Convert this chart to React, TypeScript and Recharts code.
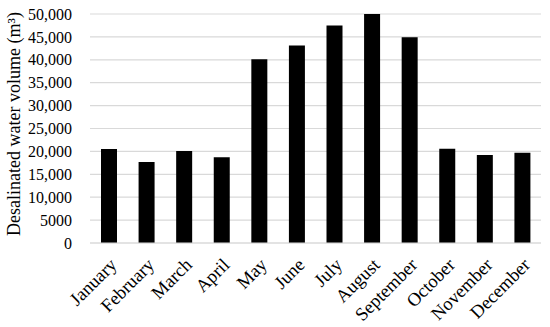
import { BarChart, Bar, XAxis, YAxis, CartesianGrid } from 'recharts';

// Monthly desalinated water volume (m³)
const months = [
  'January', 'February', 'March', 'April', 'May', 'June',
  'July', 'August', 'September', 'October', 'November', 'December'
];
const volumes = [
  20500, 17700, 20100, 18700, 40100, 43100,
  47500, 50000, 44900, 20600, 19200, 19700
];
const yTicks = [0, 5000, 10000, 15000, 20000, 25000, 30000, 35000, 40000, 45000, 50000];

const data = months.map((month, i) => ({ month, volume: volumes[i] }));

const FONT = '"Liberation Serif", "DejaVu Serif", serif';

// Excel style: no thousands separator below 10,000
const formatTick = (v: number) => (v >= 10000 ? v.toLocaleString('en-US') : String(v));

const MonthTick = (props: any) => {
  const { x, y, payload } = props;
  return (
    <g transform={`translate(${x + 9},${y + 15})`}>
      <text
        textAnchor="end"
        transform="rotate(-45)"
        fontFamily={FONT}
        fontSize={18.5}
        fill="#000"
      >
        {payload.value}
      </text>
    </g>
  );
};

const AxisTitle = () => (
  <text
    x={14}
    y={124}
    transform="rotate(-90,14,124)"
    textAnchor="middle"
    dominantBaseline="central"
    fontFamily={FONT}
    fontSize={18}
    fill="#000"
  >
    Desalinated water volume (m³)
  </text>
);

export default function App() {
  return (
    <div style={{ position: 'absolute', left: 0, top: 0, width: 550, height: 327, background: '#fff' }}>
      <BarChart
        width={550}
        height={327}
        data={data}
        margin={{ top: 14, right: 9, bottom: 0, left: 0 }}
        barSize={16}
      >
        <CartesianGrid vertical={false} stroke="#d9d9d9" strokeWidth={1.2} />
        <XAxis
          dataKey="month"
          interval={0}
          tickLine={false}
          axisLine={{ stroke: '#d9d9d9', strokeWidth: 1.2 }}
          height={84}
          tick={<MonthTick />}
        />
        <YAxis
          width={90}
          domain={[0, 50000]}
          ticks={yTicks}
          interval={0}
          tickFormatter={formatTick}
          tickLine={false}
          axisLine={false}
          tickMargin={12}
          tick={{ fontFamily: FONT, fontSize: 16, fill: '#000' }}
          label={<AxisTitle />}
        />
        <Bar dataKey="volume" fill="#000" isAnimationActive={false} />
      </BarChart>
    </div>
  );
}
